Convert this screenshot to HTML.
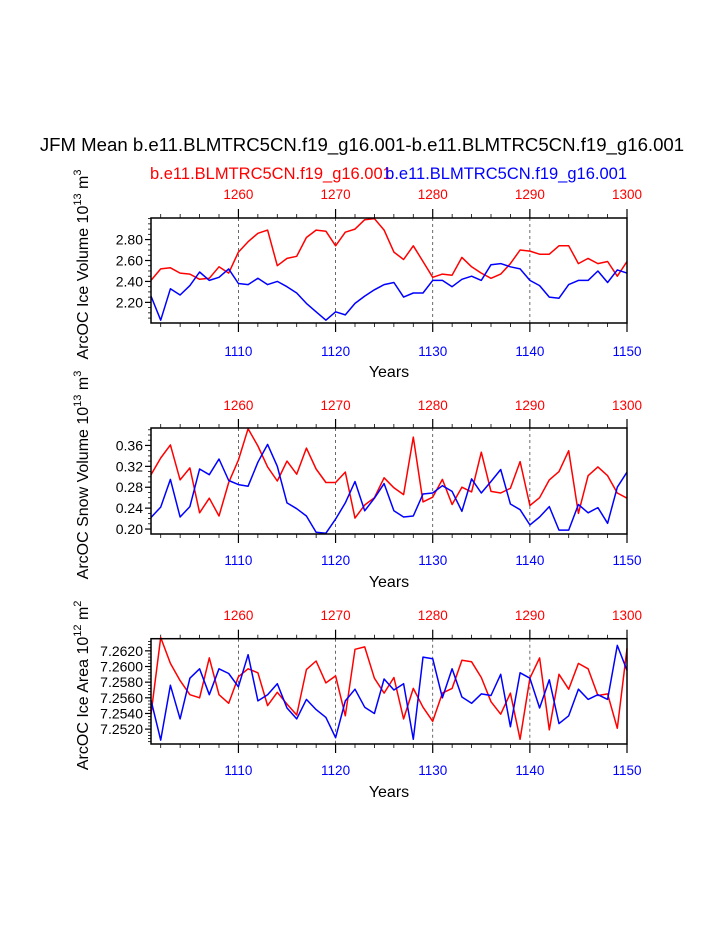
<!DOCTYPE html>
<html><head><meta charset="utf-8"><style>
html,body{margin:0;padding:0;background:#fff;}
svg{display:block;font-family:"Liberation Sans",sans-serif;}
</style></head><body>
<svg id="fig" width="723" height="935" viewBox="0 0 723 935">
<text x="362" y="151" font-size="18.6" text-anchor="middle">JFM Mean b.e11.BLMTRC5CN.f19_g16.001-b.e11.BLMTRC5CN.f19_g16.001</text>
<text x="150" y="179" font-size="16.5" fill="#ff0000">b.e11.BLMTRC5CN.f19_g16.001</text>
<text x="627" y="179" font-size="16.5" fill="#0000ff" text-anchor="end">b.e11.BLMTRC5CN.f19_g16.001</text>
</svg>
<script>
const years = [];
for (let y = 1101; y <= 1150; y++) years.push(y);
const bottomTicks = [1110, 1120, 1130, 1140, 1150];
const topTicks = [1260, 1270, 1280, 1290, 1300];

const iceVolRed = [2.41,2.52,2.53,2.48,2.47,2.42,2.43,2.54,2.48,2.68,2.78,2.86,2.89,2.55,2.62,2.64,2.82,2.89,2.88,2.74,2.87,2.90,2.99,3.00,2.89,2.68,2.61,2.74,2.59,2.44,2.47,2.46,2.63,2.54,2.48,2.43,2.47,2.57,2.70,2.69,2.66,2.66,2.74,2.74,2.57,2.62,2.57,2.59,2.45,2.59];
const iceVolBlue = [2.26,2.03,2.33,2.27,2.36,2.49,2.41,2.44,2.52,2.38,2.37,2.43,2.37,2.40,2.35,2.29,2.19,2.11,2.03,2.11,2.08,2.19,2.26,2.32,2.37,2.39,2.25,2.29,2.29,2.41,2.41,2.35,2.42,2.45,2.41,2.56,2.57,2.54,2.52,2.41,2.36,2.25,2.24,2.37,2.41,2.41,2.50,2.39,2.51,2.48];
const iceVolTicks = ["2.20","2.40","2.60","2.80"];

const snowRed = [0.304,0.336,0.361,0.294,0.317,0.231,0.259,0.225,0.289,0.332,0.392,0.359,0.319,0.292,0.330,0.305,0.355,0.315,0.289,0.289,0.309,0.221,0.246,0.260,0.298,0.279,0.266,0.376,0.252,0.261,0.295,0.247,0.280,0.271,0.347,0.272,0.269,0.278,0.329,0.245,0.260,0.294,0.310,0.350,0.230,0.302,0.319,0.302,0.269,0.259];
const snowBlue = [0.222,0.242,0.295,0.223,0.243,0.315,0.304,0.334,0.293,0.285,0.282,0.328,0.362,0.320,0.250,0.239,0.225,0.194,0.192,0.219,0.250,0.291,0.235,0.259,0.287,0.235,0.223,0.225,0.267,0.269,0.283,0.272,0.234,0.296,0.269,0.291,0.314,0.248,0.237,0.208,0.223,0.243,0.198,0.198,0.247,0.231,0.241,0.211,0.280,0.309];
const snowTicks = ["0.20","0.24","0.28","0.32","0.36"];

const areaRed = [7.2539,7.2637,7.2604,7.2582,7.2564,7.2560,7.2611,7.2564,7.2553,7.2587,7.2597,7.2592,7.2550,7.2567,7.2552,7.2538,7.2596,7.2607,7.2579,7.2588,7.2537,7.2622,7.2625,7.2585,7.2566,7.2586,7.2533,7.2572,7.2548,7.2530,7.2566,7.2572,7.2608,7.2606,7.2586,7.2555,7.2539,7.2566,7.2507,7.2585,7.2611,7.2519,7.2590,7.2571,7.2604,7.2597,7.2563,7.2565,7.2521,7.2623];
const areaBlue = [7.2557,7.2506,7.2576,7.2533,7.2585,7.2597,7.2564,7.2597,7.2591,7.2574,7.2615,7.2556,7.2564,7.2578,7.2547,7.2533,7.2558,7.2545,7.2535,7.2509,7.2556,7.2571,7.2548,7.2540,7.2584,7.2570,7.2578,7.2507,7.2612,7.2610,7.2560,7.2597,7.2561,7.2553,7.2565,7.2563,7.2590,7.2523,7.2592,7.2585,7.2547,7.2583,7.2527,7.2537,7.2571,7.2558,7.2564,7.2558,7.2627,7.2595];
const areaTicks = ["7.2520","7.2540","7.2560","7.2580","7.2600","7.2620"];

const NS = "http://www.w3.org/2000/svg";
const svg = document.getElementById('fig');
function mk(tag, attrs, parent) {
  const e = document.createElementNS(NS, tag);
  for (const k in attrs) e.setAttribute(k, attrs[k]);
  (parent || svg).appendChild(e);
  return e;
}
const X0 = 151, X1 = 627;
const xScale = yr => X0 + (yr - 1101) / (1150 - 1101) * (X1 - X0);

const panels = [
  {name:'ice-volume', top:218, bot:323, vmin:2.003, vmax:3.006, red:iceVolRed, blue:iceVolBlue, ticks:iceVolTicks, minor:0.05,
   ylab:['ArcOC Ice Volume 10','13',' m','3'], topLab:199, botLab:356, years:377},
  {name:'snow-volume', top:428, bot:534, vmin:0.1905, vmax:0.3934, red:snowRed, blue:snowBlue, ticks:snowTicks, minor:0.01,
   ylab:['ArcOC Snow Volume 10','13',' m','3'], topLab:410, botLab:565, years:587},
  {name:'ice-area', top:638.7, bot:744, vmin:7.2501, vmax:7.26355, ticks:areaTicks, red:areaRed, blue:areaBlue, minor:0.0004,
   ylab:['ArcOC Ice Area 10','12',' m','2'], topLab:620, botLab:775, years:797}
];

panels.forEach(p => {
  const g = mk('g', {});
  
  
  const yS = v => p.bot - (v - p.vmin) / (p.vmax - p.vmin) * (p.bot - p.top);
  [1110,1120,1130,1140].forEach(yr => {
    const l = mk('line', {x1:xScale(yr), x2:xScale(yr), y1:p.top, y2:p.bot, stroke:'#444', 'stroke-width':0.8, 'stroke-dasharray':'3,3'}, g);
    
    
  });
  for (let yr = 1102; yr <= 1150; yr += 2) {
    const maj = bottomTicks.includes(yr);
    const len = maj ? 9 : 4;
    mk('line', {x1:xScale(yr), x2:xScale(yr), y1:p.bot, y2:p.bot+len, stroke:'#000', 'stroke-width':maj?1.2:0.8}, g);
    mk('line', {x1:xScale(yr), x2:xScale(yr), y1:p.top, y2:p.top-len, stroke:'#000', 'stroke-width':maj?1.2:0.8}, g);
  }
  bottomTicks.forEach((yr, i) => {
    const t = mk('text', {x:xScale(yr), y:p.botLab, 'font-size':13.5, fill:'#0000ff', 'text-anchor':'middle'}, g);
    t.textContent = yr;
    
    
    const t2 = mk('text', {x:xScale(yr), y:p.topLab, 'font-size':13.5, fill:'#ff0000', 'text-anchor':'middle'}, g);
    t2.textContent = topTicks[i];
    
    
  });
  const start = Math.ceil(p.vmin / p.minor - 1e-6) * p.minor;
  for (let v = start; v <= p.vmax + 1e-9; v += p.minor) {
    mk('line', {x1:X0, x2:X0-3, y1:yS(v), y2:yS(v), stroke:'#000', 'stroke-width':0.8}, g);
  }
  p.ticks.forEach(tk => {
    const v = parseFloat(tk);
    mk('line', {x1:X0, x2:X0-6, y1:yS(v), y2:yS(v), stroke:'#000', 'stroke-width':1.2}, g);
    const t = mk('text', {x:X0-8, y:yS(v)+5, 'font-size':14, 'text-anchor':'end'}, g);
    t.textContent = tk;
    
    
  });
  [['red', p.red, '#ff0000'], ['blue', p.blue, '#0000ff']].forEach(([nm, arr, col]) => {
    const pts = arr.map((v, i) => xScale(years[i]).toFixed(1) + ',' + yS(v).toFixed(1)).join(' ');
    const pl = mk('polyline', {points:pts, fill:'none', stroke:col, 'stroke-width':1.5, 'stroke-linejoin':'round'}, g);
    
    
  });
  const fr = mk('rect', {x:X0, y:p.top, width:X1-X0, height:p.bot-p.top, fill:'none', stroke:'#000', 'stroke-width':1.5}, g);
  
  
  const yt = mk('text', {x:0, y:0, 'font-size':16, 'text-anchor':'middle', transform:`translate(88,${(p.top+p.bot)/2 - 6}) rotate(-90)`}, g);
  
  
  const [a, b, c, d] = p.ylab;
  yt.innerHTML = `${a}<tspan font-size="11" dy="-7">${b}</tspan><tspan dy="7">${c}</tspan><tspan font-size="11" dy="-7">${d}</tspan>`;
  const xt = mk('text', {x:(X0+X1)/2, y:p.years, 'font-size':16, 'text-anchor':'middle'}, g);
  xt.textContent = 'Years';
  
  
});
</script>
</body></html>
